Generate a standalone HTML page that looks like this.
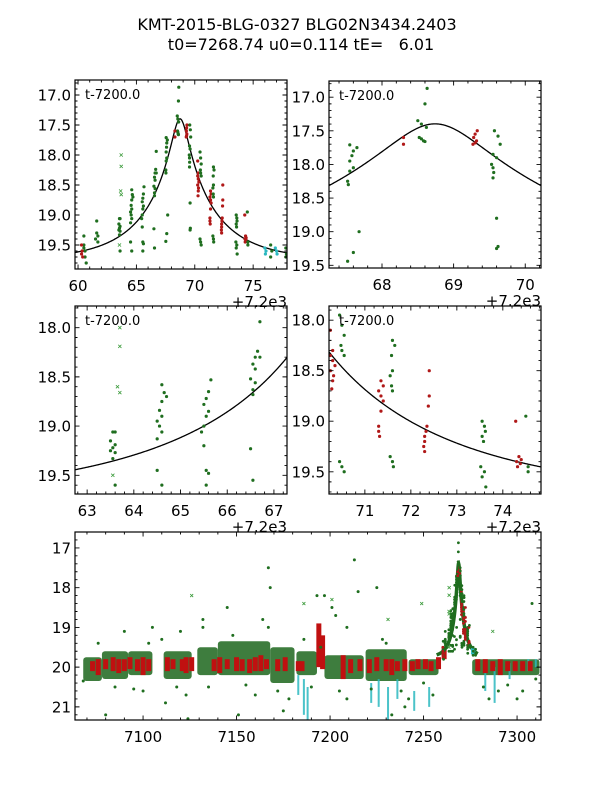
<!DOCTYPE html>
<html><head><meta charset="utf-8"><style>
html,body{margin:0;padding:0;background:#fff}
svg text{font-family:"DejaVu Sans","Liberation Sans",sans-serif;white-space:pre}
</style></head><body>
<svg id="fig" width="600" height="800" viewBox="0 0 600 800" xmlns="http://www.w3.org/2000/svg">
<rect width="600" height="800" fill="#fff"/>
<text x="297" y="30" font-size="16" text-anchor="middle">KMT-2015-BLG-0327 BLG02N3434.2403</text>
<text x="301" y="50" font-size="16" text-anchor="middle">t0=7268.74 u0=0.114 tE=   6.01</text>
</svg>
<script>
// model parameters
const t0 = 7268.74, u0 = 0.114, tE = 6.01, baseMag = 19.76;
// event-region photometry (time - 7200)
const evT = [60.5,60.5,60.6,60.6,60.7,60.5,61.6,61.6,61.7,61.7,61.5,
63.55,63.6,63.5,63.6,63.55,63.5,63.6,63.55,63.6,
64.6,64.65,64.7,64.6,64.55,64.6,64.5,64.55,64.6,64.5,64.5,64.6,
65.65,65.6,65.55,65.5,65.6,65.55,65.5,65.45,65.5,65.55,65.6,65.55,
66.7,66.65,66.6,66.7,66.55,66.6,66.5,66.6,66.55,66.55,66.5,66.55,
67.55,67.65,67.6,67.58,67.55,67.6,67.55,67.52,67.53,67.52,67.6,67.68,
68.63,68.6,68.5,68.55,68.62,68.52,68.58,68.6,68.55,
68.3,68.3,69.3,69.28,69.32,69.27,69.3,69.33,
69.57,69.62,69.65,69.55,69.6,69.53,69.55,69.56,69.55,69.6,69.62,69.6,
70.25,70.3,70.25,70.3,70.35,70.25,70.32,70.3,70.28,
70.45,70.5,70.55,70.48,70.5,70.55,70.45,70.5,70.55,
71.35,71.4,71.3,71.35,71.4,71.35,71.3,71.3,71.32,
71.6,71.65,71.58,71.6,71.55,71.58,71.6,71.55,71.6,71.62,
72.4,72.4,72.38,72.35,72.33,72.3,72.3,72.28,72.3,
73.55,73.6,73.62,73.55,73.58,73.52,73.6,73.55,73.63,
74.28,74.35,74.4,74.3,74.38,74.32,
74.5,74.55,74.55,
76.0,76.1,76.05,76.9,77.0,77.05,
76.5,76.6,76.5,77.8,77.85,77.8,
60.3,60.35,60.3,60.4,
63.7,63.7,63.65,63.7,63.55];
const evM = [19.35,19.5,19.6,19.7,19.8,19.55,19.1,19.3,19.35,19.45,19.4,
19.06,19.06,19.15,19.19,19.22,19.25,19.27,19.33,19.6,
18.58,18.66,18.7,18.75,18.84,18.9,18.95,19.0,19.06,19.13,19.45,19.6,
18.53,18.65,18.72,18.78,18.85,18.9,19.0,19.06,19.2,19.45,19.48,19.6,
17.94,18.24,18.3,18.3,18.37,18.42,18.52,18.56,18.63,18.68,19.23,19.55,
17.71,17.75,17.8,17.87,17.95,18.05,18.1,18.25,18.3,19.44,19.31,19.0,
16.87,17.1,17.35,17.4,17.45,17.6,17.65,17.66,17.62,
17.6,17.7,17.55,17.6,17.65,17.7,17.68,17.5,
17.5,17.58,17.7,17.85,17.9,18.0,18.05,18.12,18.2,18.8,19.22,19.25,
18.1,18.3,18.35,18.4,18.45,18.5,18.55,18.6,18.68,
17.95,18.05,18.15,18.25,18.3,18.35,19.4,19.45,19.5,
18.6,18.65,18.7,18.75,18.8,18.9,19.05,19.1,19.15,
18.2,18.25,18.35,18.5,18.55,18.65,18.7,19.35,19.4,19.45,
18.5,18.75,18.85,19.05,19.1,19.15,19.2,19.25,19.3,
19.0,19.05,19.1,19.15,19.2,19.45,19.5,19.55,19.65,
19.0,19.35,19.38,19.4,19.42,19.45,
18.95,19.45,19.5,
19.55,19.6,19.65,19.55,19.6,19.65,
19.5,19.6,19.7,19.55,19.65,19.7,
19.5,19.6,19.65,19.7,
18.0,18.19,18.6,18.66,19.5];
const evK = "gggggggggggggggggggggggggggggggggggggggggggggggggggggggggggggggggggggggggggggrrrrrrrrggggggggggggrrrrrrrrrgggggggggrrrrrrrrrggggggggggrrrrrrrrrgggggggggrrrrrrgggccccccggggggrrrrxxxxx";
// baseline season: green nightly bands [start, end, brightMag, faintMag]
const gBandStart = [7068,7078,7092,7111,7129,7140,7168,7182,7197,7219,7242,7276];
const gBandEnd   = [7078,7092,7105,7126,7140,7168,7181,7193,7218,7241,7258,7312];
const gBandTop   = [19.75,19.6,19.6,19.6,19.5,19.35,19.5,19.6,19.7,19.55,19.8,19.8];
const gBandBot   = [20.35,20.3,20.2,20.3,20.2,20.2,20.4,20.2,20.3,20.35,20.2,20.2];
// red nightly columns
const rT   = [7073,7076,7080,7084,7087,7090,7093,7097,7100,7103,7113,7116,7121,7123,7126,7138,7141,7145,7150,7153,7157,7160,7163,7166,7172,7176,7183,7185,7194,7196,7207,7211,7216,7221,7225,7230,7233,7236,7240,7244,7247,7251,7254,7258,7261,7279,7283,7287,7291,7295,7299,7303,7307];
const rTop = [19.85,19.8,19.8,19.75,19.8,19.8,19.75,19.8,19.75,19.8,19.75,19.8,19.8,19.75,19.75,19.8,19.75,19.8,19.75,19.8,19.8,19.75,19.7,19.8,19.8,19.75,19.85,19.85,18.9,19.2,19.7,19.8,19.8,19.8,19.75,19.8,19.8,19.85,19.8,19.85,19.8,19.8,19.85,19.75,19.5,19.8,19.8,19.85,19.8,19.85,19.85,19.85,19.85];
const rBot = [20.1,20.2,20.05,20.1,20.15,20.1,20.05,20.1,20.2,20.1,20.1,20.05,20.1,20.15,20.1,20.1,20.15,20.05,20.1,20.1,20.15,20.1,20.1,20.05,20.1,20.1,20.1,20.1,20.0,20.05,20.3,20.15,20.1,20.15,20.1,20.1,20.2,20.1,20.1,20.1,20.05,20.05,20.1,20.05,19.8,20.1,20.15,20.1,20.2,20.1,20.1,20.1,20.1];
// cyan columns
const cT   = [7183,7186,7188,7222,7226,7231,7236,7245,7253,7283,7288,7296,7306,7310];
const cTop = [20.2,20.3,20.5,20.4,20.3,20.5,20.3,20.6,20.5,19.9,20.0,19.9,19.8,19.8];
const cBot = [20.7,21.2,21.4,20.9,21.0,21.4,20.8,21.1,21.0,20.6,20.9,20.3,20.1,20.0];
// scattered outliers in baseline season
const oT = [7068,7080,7090,7103,7105,7112,7120,7123,7124,7132,7132,7145,7151,7164,7167,7168,7167,7193,7197,7195,7201,7203,7209,7213,7215,7225,7228,7242,7255,7300,7308,7303,7290,7285,7240,7233,7178,7175,7209,7160,7100,7085,7095,7118,7135,7155,7172,7190,7205,7222,7238,7250,7282,7295,7310,7076,7110,7148,7186,7230];
const oM = [20.35,21.2,19.1,19.4,19.0,20.9,19.1,20.7,21.3,18.8,19.0,18.5,21.2,18.8,17.5,18.0,19.0,18.2,18.2,19.5,18.5,18.7,19.0,17.3,18.1,18.0,19.3,20.8,20.7,20.8,18.4,20.6,20.6,20.8,21.0,21.2,20.8,21.1,20.8,20.7,20.6,20.5,20.55,20.5,20.5,20.45,20.6,20.5,20.6,20.55,20.6,20.4,20.5,20.45,20.3,19.4,19.3,19.2,19.3,19.4];
const xT = [7126,7186,7201,7249,7231,7287];
const xM = [18.2,18.4,18.3,18.4,18.8,19.1];

const NS = "http://www.w3.org/2000/svg";
const svg = document.getElementById('fig');
const COL = {g:'#1f6e1f', r:'#b01818', c:'#2bb8c0', x:'#3a9a3a'};
function mk(tag, attrs, parent){const e=document.createElementNS(NS,tag);for(const k in attrs)e.setAttribute(k,attrs[k]);(parent||svg).appendChild(e);return e;}
function modelMag(t){const tau=(t-t0)/tE;const u=Math.sqrt(u0*u0+tau*tau);const A=(u*u+2)/(u*Math.sqrt(u*u+4));return baseMag-2.5*Math.log10(A);}

let pid=0;
function panel(p){
  pid++;
  const sx=t=>p.x0+(t-p.tmin)/(p.tmax-p.tmin)*(p.x1-p.x0);
  const sy=m=>p.y0+(m-p.mtop)/(p.mbot-p.mtop)*(p.y1-p.y0);
  const g=mk('g',{});
  
  
  const cp=mk('clipPath',{id:'cp'+pid},g);
  mk('rect',{x:p.x0,y:p.y0,width:p.x1-p.x0,height:p.y1-p.y0},cp);
  const plot=mk('g',{'clip-path':'url(#cp'+pid+')'},g);
  
  
  const off=p.offset;
  if(p.bands){
    for(let i=0;i<gBandStart.length;i++){
      const b=mk('rect',{x:sx(gBandStart[i]-off),y:sy(gBandTop[i]),width:sx(gBandEnd[i]-off)-sx(gBandStart[i]-off),height:sy(gBandBot[i])-sy(gBandTop[i]),fill:'#236b23',opacity:0.88,rx:3},plot);
      
      
    }
    for(let i=0;i<cT.length;i++){
      const b=mk('rect',{x:sx(cT[i]-off)-1,y:sy(cTop[i]),width:2,height:sy(cBot[i])-sy(cTop[i]),fill:COL.c,opacity:0.85},plot);
      
      
    }
    for(let i=0;i<rT.length;i++){
      const b=mk('rect',{x:sx(rT[i]-off)-2.5,y:sy(rTop[i]),width:5,height:sy(rBot[i])-sy(rTop[i]),fill:'#c01010'},plot);
      
      
    }
    for(let i=0;i<oT.length;i++){
      const c=mk('circle',{cx:sx(oT[i]-off),cy:sy(oM[i]),r:1.5,fill:COL.g},plot);
      
      
    }
    for(let i=0;i<xT.length;i++){
      const x=sx(xT[i]-off),y=sy(xM[i]);
      const c=mk('path',{d:`M${x-1.5},${y-1.5}L${x+1.5},${y+1.5}M${x-1.5},${y+1.5}L${x+1.5},${y-1.5}`,stroke:COL.x,'stroke-width':0.8},plot);
      
      
    }
    // dense event coverage along model
    let d='';
    for(let i=0;i<=200;i++){const t=7257+22*i/200;d+=(i?'L':'M')+sx(t).toFixed(2)+','+sy(modelMag(t)).toFixed(2);}
    const ev=mk('path',{d:d,fill:'none',stroke:'#1f6a1f','stroke-width':3.5},plot);
    
    
  }
  if(p.curve){
    let d='';
    for(let i=0;i<=300;i++){const t=p.tmin+(p.tmax-p.tmin)*i/300;d+=(i?'L':'M')+sx(t).toFixed(2)+','+sy(modelMag(t+off)).toFixed(2);}
    const c=mk('path',{d:d,fill:'none',stroke:'#000','stroke-width':1.3},plot);
    
    
  }
  const evOff = p.bands ? 7200 - off : 0;
  for(let i=0;i<evT.length;i++){
    const k=evK[i];const x=sx(evT[i]+evOff),y=sy(evM[i]);
    if(k==='x'){
      const c=mk('path',{d:`M${x-1.6},${y-1.6}L${x+1.6},${y+1.6}M${x-1.6},${y+1.6}L${x+1.6},${y-1.6}`,stroke:COL.x,'stroke-width':0.8},plot);
      
      
    } else {
      const c=mk('circle',{cx:x,cy:y,r:p.bands?1.4:1.6,fill:COL[k]},plot);
      
      
    }
  }
  const fr=mk('rect',{x:p.x0,y:p.y0,width:p.x1-p.x0,height:p.y1-p.y0,fill:'none',stroke:'#000','stroke-width':1.2},g);
  
  
  let td='';
  const eps=1e-6;
  for(let v=Math.ceil(p.tmin/p.xminor-eps)*p.xminor; v<=p.tmax+eps; v+=p.xminor){
    const major=Math.abs(v/p.xmajor-Math.round(v/p.xmajor))<1e-4;const L=major?4.5:2.5;const x=sx(v);
    td+=`M${x},${p.y1}v${-L}M${x},${p.y0}v${L}`;
  }
  for(let v=Math.ceil(p.mtop/p.yminor-eps)*p.yminor; v<=p.mbot+eps; v+=p.yminor){
    const major=Math.abs(v/p.ymajor-Math.round(v/p.ymajor))<1e-4;const L=major?4.5:2.5;const y=sy(v);
    td+=`M${p.x0},${y}h${L}M${p.x1},${y}h${-L}`;
  }
  const tk=mk('path',{d:td,stroke:'#000','stroke-width':0.9,fill:'none'},g);
  
  
  p.xlabels.forEach(v=>{
    const t=mk('text',{x:sx(v),y:p.y1+22,'font-size':15,'text-anchor':'middle'},g);
    t.textContent=String(v);
    
    
  });
  p.ylabels.forEach(v=>{
    const t=mk('text',{x:p.x0-4,y:sy(v)+5.5,'font-size':15,'text-anchor':'end'},g);
    t.textContent=p.ydec?v.toFixed(1):String(v);
    
    
  });
  if(!p.bands){
    const ot=mk('text',{x:p.x1,y:p.y1+38,'font-size':15,'text-anchor':'end'},g);
    ot.textContent='+7.2e3';
    
    
    const lt=mk('text',{x:p.x0+10,y:p.y0+19,'font-size':13},g);
    lt.textContent='t-7200.0';
    
    
  }
}
panel({name:'panel-full-event',x0:75,x1:287,y0:80,y1:269,tmin:59.74,tmax:77.9,mtop:16.75,mbot:19.9,offset:7200,xmajor:5,xminor:1,ymajor:0.5,yminor:0.1,xlabels:[60,65,70,75],ylabels:[17,17.5,18,18.5,19,19.5],ydec:true,curve:true});
panel({name:'panel-peak',x0:329,x1:541,y0:81,y1:268,tmin:67.26,tmax:70.22,mtop:16.76,mbot:19.54,offset:7200,xmajor:1,xminor:0.2,ymajor:0.5,yminor:0.1,xlabels:[68,69,70],ylabels:[17,17.5,18,18.5,19,19.5],ydec:true,curve:true});
panel({name:'panel-rise',x0:75,x1:287,y0:306,y1:494,tmin:62.74,tmax:67.28,mtop:17.78,mbot:19.69,offset:7200,xmajor:1,xminor:0.2,ymajor:0.5,yminor:0.1,xlabels:[63,64,65,66,67],ylabels:[18,18.5,19,19.5],ydec:true,curve:true});
panel({name:'panel-decline',x0:329,x1:541,y0:306,y1:494,tmin:70.22,tmax:74.83,mtop:17.86,mbot:19.72,offset:7200,xmajor:1,xminor:0.2,ymajor:0.5,yminor:0.1,xlabels:[71,72,73,74],ylabels:[18,18.5,19,19.5],ydec:true,curve:true});
panel({name:'panel-season',x0:75,x1:541,y0:532,y1:720,tmin:7063.6,tmax:7312.8,mtop:16.6,mbot:21.33,offset:0,xmajor:50,xminor:10,ymajor:1,yminor:0.2,xlabels:[7100,7150,7200,7250,7300],ylabels:[17,18,19,20,21],ydec:false,curve:false,bands:true});
</script>
</body></html>
